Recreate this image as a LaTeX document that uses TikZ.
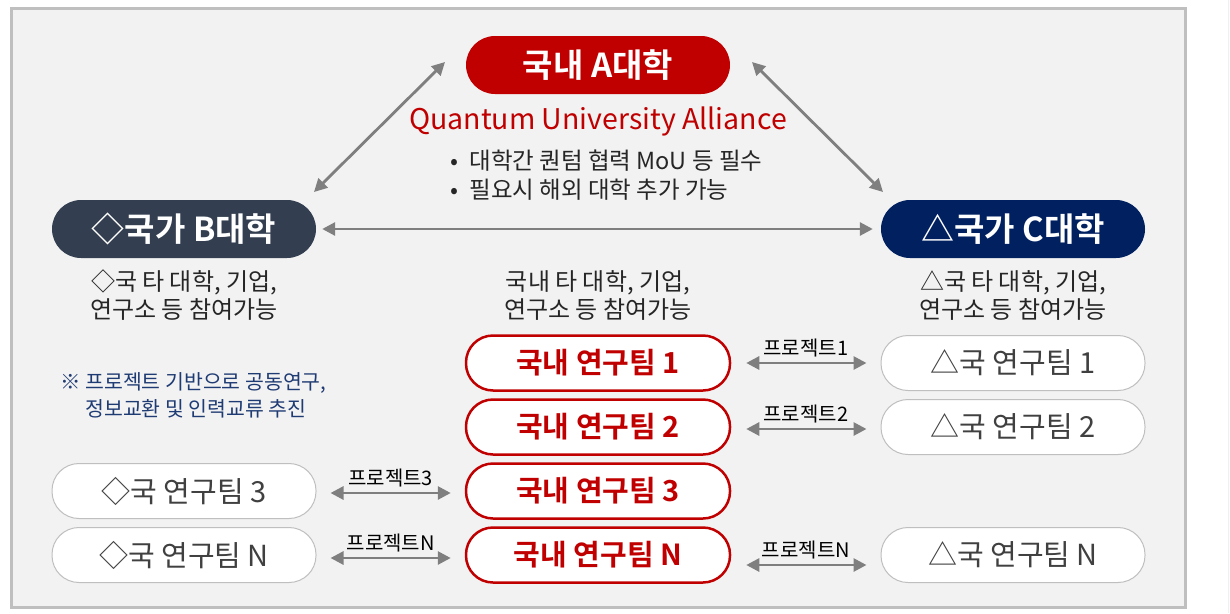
\documentclass[tikz,border=0pt]{standalone}
\usepackage{fontspec}
\setmainfont{Noto Sans CJK KR}[BoldFont={Noto Sans CJK KR Bold}]
\usetikzlibrary{arrows.meta}
\definecolor{cred}{HTML}{C00000}
\definecolor{cslate}{HTML}{333F50}
\definecolor{cnavy}{HTML}{002060}
\definecolor{ctext}{HTML}{262626}
\definecolor{cteam}{HTML}{404040}
\definecolor{cnote}{HTML}{1F3B73}
\definecolor{carrow}{HTML}{7F7F7F}
\definecolor{cpanel}{HTML}{F2F2F2}
\definecolor{cborder}{HTML}{BFBFBF}
\begin{document}
\begin{tikzpicture}[x=1pt,y=-1pt,
  pill/.style={rectangle,rounded corners=27pt,minimum width=264pt,minimum height=55pt,inner sep=0pt},
  uni/.style={pill,minimum height=58pt,rounded corners=29pt,text=white,font=\bfseries\fontsize{33}{34}\selectfont},
  cteamstyle/.style={pill,fill=white,draw=cred,line width=2.5pt,text=cred,font=\bfseries\fontsize{29}{32}\selectfont},
  oteam/.style={pill,fill=white,draw=cborder,line width=1pt,text=cteam,font=\fontsize{29}{32}\selectfont},
  side/.style={align=center,text=ctext,font=\fontsize{24}{28}\selectfont},
  plabel/.style={text=black,font=\fontsize{20}{22}\selectfont,inner sep=1pt},
  link/.style={draw=carrow,line width=2.8pt,{Triangle[length=13pt,width=13pt]}-{Triangle[length=13pt,width=13pt]}}]
\useasboundingbox (0,0) rectangle (1230,613);
\draw[cborder,line width=3pt,fill=cpanel] (11,8) rectangle (1185,607);
\draw[gray!12,line width=0.8pt] (1228.5,0) -- (1228.5,613);
% universities
\node[uni,fill=cred] (A) at (598,65) {국내 A대학};
\node[uni,fill=cslate] (B) at (184,229) {◇국가 B대학};
\node[uni,fill=cnavy] (C) at (1013,229) {△국가 C대학};
\node[text=cred,font=\fontsize{28.5}{30}\selectfont] (qua) at (598,121) {Quantum University Alliance};
\node[anchor=west,text=ctext,font=\fontsize{23.5}{29}\selectfont,align=left] (bul) at (447,175) {•\hspace{11pt}대학간 퀀텀 협력 MoU 등 필수\\•\hspace{11pt}필요시 해외 대학 추가 가능};
\coordinate (ab1) at (445,62); \coordinate (ab2) at (314,192);
\coordinate (ac1) at (752,62); \coordinate (ac2) at (883,192);
\draw[link] (ab1) -- (ab2);
\draw[link] (ac1) -- (ac2);
\draw[link,shorten <=6pt,shorten >=8pt] (B.east) -- (C.west);
% side texts
\node[side] (Bs) at (184,295) {◇국 타 대학, 기업,\\연구소 등 참여가능};
\node[side] (As) at (598,295) {국내 타 대학, 기업,\\연구소 등 참여가능};
\node[side] (Cs) at (1013,295) {△국 타 대학, 기업,\\연구소 등 참여가능};
% note
\node[anchor=north west,text=cnote,font=\fontsize{20.5}{27}\selectfont,align=left,inner sep=0pt] (note) at (60,372) {※ 프로젝트 기반으로 공동연구,\\\hphantom{※ }정보교환 및 인력교류 추진};
% center teams
\node[cteamstyle] (t1) at (598,363) {국내 연구팀 1};
\node[cteamstyle] (t2) at (598,427) {국내 연구팀 2};
\node[cteamstyle] (t3) at (598,491) {국내 연구팀 3};
\node[cteamstyle] (tN) at (598,555) {국내 연구팀 N};
% right teams
\node[oteam] (r1) at (1013,363) {△국 연구팀 1};
\node[oteam] (r2) at (1013,427) {△국 연구팀 2};
\node[oteam] (rN) at (1013,555) {△국 연구팀 N};
% left teams
\node[oteam] (l3) at (184,491) {◇국 연구팀 3};
\node[oteam] (lN) at (184,555) {◇국 연구팀 N};
% project links
\draw[link,shorten <=15pt,shorten >=14pt] (t1.east) -- (r1.west) node[midway,above=4pt,plabel] (p1) {프로젝트1};
\draw[link,shorten <=15pt,shorten >=14pt] ([yshift=-2pt]t2.east) -- ([yshift=-2pt]r2.west) node[midway,above=4pt,plabel] (p2) {프로젝트2};
\draw[link,shorten <=15pt,shorten >=14pt] ([yshift=-10pt]tN.east) -- ([yshift=-10pt]rN.west) node[midway,above=4pt,plabel] (pN) {프로젝트N};
\draw[link,shorten <=14pt,shorten >=14pt] ([yshift=-2pt]l3.east) -- ([yshift=-2pt]t3.west) node[midway,above=4pt,plabel] (p3) {프로젝트3};
\draw[link,shorten <=14pt,shorten >=14pt] ([yshift=-3pt]lN.east) -- ([yshift=-3pt]tN.west) node[midway,above=4pt,plabel] (pLN) {프로젝트N};
\end{tikzpicture}
\end{document}
